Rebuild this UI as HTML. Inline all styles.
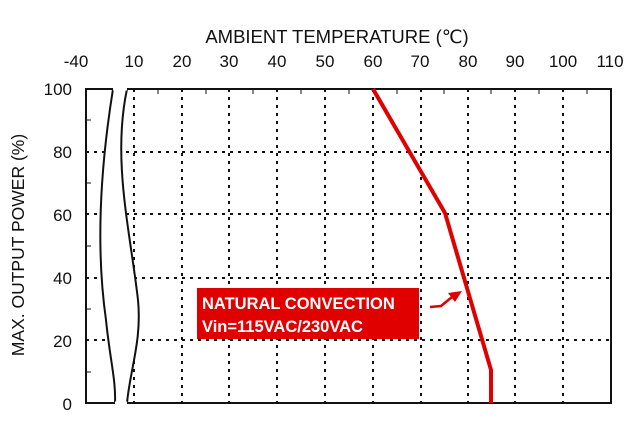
<!DOCTYPE html>
<html><head><style>body{margin:0;background:#fff}</style></head><body>
<svg width="630" height="425" xmlns="http://www.w3.org/2000/svg" font-family="Liberation Sans, DejaVu Sans, sans-serif">
<rect width="630" height="425" fill="#fff"/>
<text x="337" y="43" font-size="18.5" text-anchor="middle" fill="#111">AMBIENT TEMPERATURE (℃)</text>
<g font-size="17" fill="#111" text-anchor="middle">
<text x="76" y="67">-40</text><text x="134" y="67">10</text><text x="182" y="67">20</text><text x="229" y="67">30</text><text x="277" y="67">40</text><text x="325" y="67">50</text><text x="373" y="67">60</text><text x="420" y="67">70</text><text x="468" y="67">80</text><text x="515" y="67">90</text><text x="563" y="67">100</text><text x="610" y="67">110</text>
</g>
<g font-size="17" fill="#111" text-anchor="end">
<text x="72" y="95">100</text><text x="72" y="158">80</text><text x="72" y="221">60</text><text x="72" y="284">40</text><text x="72" y="347">20</text><text x="72" y="410">0</text>
</g>
<text transform="translate(24,245) rotate(-90)" font-size="17.5" text-anchor="middle" fill="#111">MAX. OUTPUT POWER (%)</text>
<g stroke="#111" stroke-width="2" stroke-dasharray="3,5">
<line x1="134" y1="89" x2="134" y2="403"/><line x1="182" y1="89" x2="182" y2="403"/><line x1="229" y1="89" x2="229" y2="403"/><line x1="277" y1="89" x2="277" y2="403"/><line x1="325" y1="89" x2="325" y2="403"/><line x1="373" y1="89" x2="373" y2="403"/><line x1="421" y1="89" x2="421" y2="403"/><line x1="468" y1="89" x2="468" y2="403"/><line x1="515" y1="89" x2="515" y2="403"/><line x1="563" y1="89" x2="563" y2="403"/>
<line x1="86" y1="152" x2="611" y2="152"/><line x1="86" y1="214" x2="611" y2="214"/><line x1="86" y1="278" x2="611" y2="278"/><line x1="86" y1="340" x2="611" y2="340"/>
</g>
<g stroke="#111" stroke-width="1">
<line x1="158" y1="89" x2="158" y2="94"/><line x1="206" y1="89" x2="206" y2="94"/><line x1="253" y1="89" x2="253" y2="94"/><line x1="301" y1="89" x2="301" y2="94"/><line x1="349" y1="89" x2="349" y2="94"/><line x1="397" y1="89" x2="397" y2="94"/><line x1="444" y1="89" x2="444" y2="94"/><line x1="491" y1="89" x2="491" y2="94"/><line x1="539" y1="89" x2="539" y2="94"/><line x1="587" y1="89" x2="587" y2="94"/>
<line x1="86" y1="120" x2="91" y2="120"/><line x1="86" y1="183" x2="91" y2="183"/><line x1="86" y1="246" x2="91" y2="246"/><line x1="86" y1="309" x2="91" y2="309"/><line x1="86" y1="372" x2="91" y2="372"/>
</g>
<path d="M113,89 C100,170 96,250 106,320 C110,360 116,380 115,403 L127,403 C130,370 142,340 138,300 C130,230 112,160 127,89 Z" fill="#fff"/>
<rect x="86" y="89" width="525" height="314" fill="none" stroke="#111" stroke-width="2"/>
<path d="M113,89 C100,170 96,250 106,320 C110,360 116,380 115,403 M127,403 C130,370 142,340 138,300 C130,230 112,160 127,89" fill="none" stroke="#111" stroke-width="2"/>
<line x1="113" y1="89" x2="127" y2="89" stroke="#fff" stroke-width="3"/>
<line x1="115" y1="403" x2="127" y2="403" stroke="#fff" stroke-width="3"/>
<polyline points="373,89 445,213 491,370 491,403" fill="none" stroke="#e00000" stroke-width="4"/>
<rect x="197" y="288" width="222" height="51" fill="#e00000"/>
<text x="202" y="309" font-size="16.5" font-weight="bold" fill="#fff">NATURAL CONVECTION</text>
<text x="202" y="332" font-size="16.5" font-weight="bold" fill="#fff">Vin=115VAC/230VAC</text>
<path d="M430,307 L441,306 L452,297" fill="none" stroke="#e00000" stroke-width="2.5"/>
<polygon points="462,291 448,293 455,302" fill="#e00000"/>
</svg>
</body></html>
